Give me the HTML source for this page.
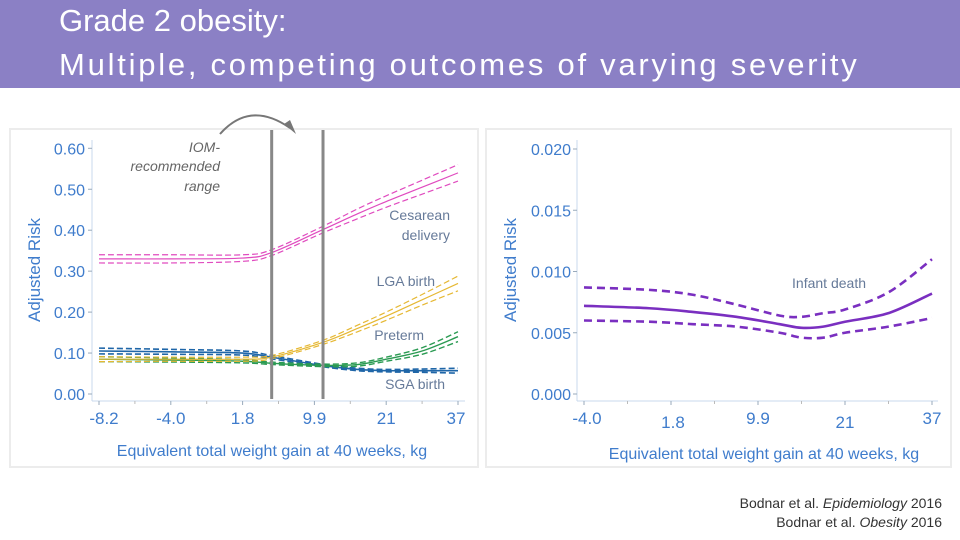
<!DOCTYPE html>
<html><head><meta charset="utf-8">
<style>
body{margin:0;width:960px;height:540px;overflow:hidden;background:#fff;font-family:"Liberation Sans",sans-serif;}
#title{position:absolute;left:0;top:0;width:960px;height:88px;background:#8b80c5;}
#title div{position:absolute;left:59px;color:#fff;font-size:31px;line-height:36px;white-space:nowrap;}
#cite{position:absolute;right:18px;top:494px;text-align:right;font-size:14px;color:#333;line-height:19px;}
</style></head>
<body>
<div id="title">
<div style="top:3px">Grade 2 obesity:</div>
<div style="top:47px;letter-spacing:2.75px">Multiple, competing outcomes of varying severity</div>
</div>
<svg id="s" width="960" height="540" style="position:absolute;left:0;top:0"></svg>
<div id="cite">Bodnar et al. <i>Epidemiology</i> 2016<br>Bodnar et al. <i>Obesity</i> 2016</div>
<script>
// Left chart data (x in tick-index units)
const leftTicks = ["-8.2","-4.0","1.8","9.9","21","37"];
const leftYTicks = [0,0.1,0.2,0.3,0.4,0.5,0.6];
const xs = [0,1,2,2.4,3.1,3.6,4,4.5,5];
const cesarean = [0.33,0.33,0.332,0.345,0.40,0.44,0.47,0.505,0.54];
const cesCI = [0.01,0.01,0.008,0.007,0.008,0.012,0.014,0.017,0.02];
const lga = [0.085,0.085,0.085,0.09,0.125,0.16,0.19,0.23,0.27];
const lgaCI = [0.006,0.005,0.005,0.004,0.005,0.008,0.01,0.013,0.018];
const preterm = [0.085,0.083,0.08,0.075,0.07,0.072,0.085,0.105,0.14];
const pretermCI = [0.006,0.005,0.004,0.003,0.003,0.004,0.005,0.008,0.012];
const sga = [0.105,0.103,0.1,0.09,0.07,0.06,0.057,0.057,0.057];
const sgaCI = [0.007,0.006,0.005,0.004,0.003,0.003,0.003,0.004,0.006];
const iomRange = [2.405,3.12];
// Right chart data
const rightTicks = ["-4.0","1.8","9.9","21","37"];
const rightYTicks = [0,0.005,0.01,0.015,0.02];
const rxs = [0,0.75,1.25,1.75,2.25,2.5,2.75,3,3.5,4];
const infant = [0.0072,0.0070,0.0067,0.0063,0.0057,0.0054,0.0055,0.0059,0.0066,0.0082];
const infantHi = [0.0087,0.0085,0.0081,0.0073,0.0064,0.0063,0.0066,0.0069,0.0083,0.011];
const infantLo = [0.0060,0.0059,0.0057,0.0055,0.0050,0.0046,0.0046,0.0050,0.0055,0.0062];

const NS="http://www.w3.org/2000/svg", svg=document.getElementById('s');
function mk(t,a,p){const e=document.createElementNS(NS,t);for(const k in a)e.setAttribute(k,a[k]);(p||svg).appendChild(e);return e;}
function smooth(pts){let d="M"+pts[0][0]+","+pts[0][1];for(let i=0;i<pts.length-1;i++){const p0=pts[i-1]||pts[i],p1=pts[i],p2=pts[i+1],p3=pts[i+2]||p2;
d+=" C"+(p1[0]+(p2[0]-p0[0])/6)+","+(p1[1]+(p2[1]-p0[1])/6)+" "+(p2[0]-(p3[0]-p1[0])/6)+","+(p2[1]-(p3[1]-p1[1])/6)+" "+p2[0]+","+p2[1];}return d;}
const blue="#3f7ccc";

// Panels
let p=mk('rect',{x:10,y:129,width:468,height:338,fill:'#fff',stroke:'#ececec','stroke-width':2});

p=mk('rect',{x:486,y:129,width:465,height:338,fill:'#fff',stroke:'#ececec','stroke-width':2});


// Left axes
const lx=i=>99+i*71.8, ly=v=>394-v/0.6*245.7;
let e=mk('line',{x1:92,y1:140,x2:92,y2:401,stroke:'#c8d8ec'});
e=mk('line',{x1:92,y1:401,x2:465,y2:401,stroke:'#c8d8ec'});
leftYTicks.forEach(v=>{mk('line',{x1:88,x2:92,y1:ly(v),y2:ly(v),stroke:'#9ab'});
 const t=mk('text',{x:85,y:ly(v)+6,'text-anchor':'end','font-size':16,fill:blue});t.textContent=v.toFixed(2);
 });
leftTicks.forEach((l,i)=>{mk('line',{x1:lx(i),x2:lx(i),y1:401,y2:405,stroke:'#9ab'});
 if(i<5)mk('line',{x1:lx(i+0.5),x2:lx(i+0.5),y1:401,y2:404,stroke:'#bbb'});
 const t=mk('text',{x:lx(i)+(i==0?5:i==5?-2:0),y:424,'text-anchor':'middle','font-size':17,fill:blue});t.textContent=l;
 });
e=mk('text',{x:272,y:456,'text-anchor':'middle','font-size':16,fill:blue});e.textContent="Equivalent total weight gain at 40 weeks, kg";

e=mk('text',{x:0,y:0,transform:'translate(40,270) rotate(-90)','text-anchor':'middle','font-size':17,fill:blue});e.textContent="Adjusted Risk";


function series(x,fx,fy,mid,ci,col,name,w){
 [-1,1].forEach(s=>{const pp=mk('path',{d:smooth(x.map((xx,i)=>[fx(xx),fy(mid[i]+s*ci[i])])),fill:'none',stroke:col,'stroke-width':w,'stroke-dasharray':'6,3'});
  });
 const pp=mk('path',{d:smooth(x.map((xx,i)=>[fx(xx),fy(mid[i])])),fill:'none',stroke:col,'stroke-width':w});
 
}
series(xs,lx,ly,sga,sgaCI,'#1f66a8','sga',1.6);
series(xs,lx,ly,preterm,pretermCI,'#2a9a52','preterm',1.4);
series(xs,lx,ly,lga,lgaCI,'#e6b833','lga',1.2);
series(xs,lx,ly,cesarean,cesCI,'#e04bbf','cesarean',1.2);
iomRange.forEach(v=>{const l=mk('line',{x1:lx(v),x2:lx(v),y1:130,y2:399,stroke:'#888','stroke-width':3});
 });
[["IOM-",220,152],["recommended",220,171],["range",220,191]].forEach(a=>{const t=mk('text',{x:a[1],y:a[2],'text-anchor':'end','font-size':14,'font-style':'italic',fill:'#666'});t.textContent=a[0];
 });
e=mk('path',{d:'M220,134 Q250,100 290,128',fill:'none',stroke:'#777','stroke-width':2});
mk('path',{d:'M284,124 L296,134 L290,120 Z',fill:'#777'});
[["Cesarean",450,220],["delivery",450,240],["LGA birth",435,286],["Preterm",424,340],["SGA birth",445,389]].forEach(a=>{const t=mk('text',{x:a[1],y:a[2],'text-anchor':'end','font-size':14,fill:'#667a99'});t.textContent=a[0];
 });

// Right chart
const rx=i=>584+i*87, ry=v=>394-v/0.02*245;
e=mk('line',{x1:577,y1:140,x2:577,y2:401,stroke:'#c8d8ec'});
e=mk('line',{x1:577,y1:401,x2:938,y2:401,stroke:'#c8d8ec'});
rightYTicks.forEach(v=>{mk('line',{x1:573,x2:577,y1:ry(v),y2:ry(v),stroke:'#9ab'});
 const t=mk('text',{x:571,y:ry(v)+6,'text-anchor':'end','font-size':16,fill:blue});t.textContent=v.toFixed(3);
 });
rightTicks.forEach((l,i)=>{mk('line',{x1:rx(i),x2:rx(i),y1:401,y2:405,stroke:'#9ab'});
 if(i<4)mk('line',{x1:rx(i+0.5),x2:rx(i+0.5),y1:401,y2:404,stroke:'#bbb'});
 const t=mk('text',{x:rx(i)+(i==0?3:i==1?2:0),y:i%2?428:424,'text-anchor':'middle','font-size':17,fill:blue});t.textContent=l;
 });
e=mk('text',{x:764,y:459,'text-anchor':'middle','font-size':16,fill:blue});e.textContent="Equivalent total weight gain at 40 weeks, kg";

e=mk('text',{x:0,y:0,transform:'translate(516,270) rotate(-90)','text-anchor':'middle','font-size':17,fill:blue});e.textContent="Adjusted Risk";

[infantHi,infantLo].forEach(arr=>{const pp=mk('path',{d:smooth(rxs.map((xx,i)=>[rx(xx),ry(arr[i])])),fill:'none',stroke:'#7a2fc0','stroke-width':2.6,'stroke-dasharray':'8,5'});
 });
e=mk('path',{d:smooth(rxs.map((xx,i)=>[rx(xx),ry(infant[i])])),fill:'none',stroke:'#7a2fc0','stroke-width':2.6});

e=mk('text',{x:866,y:288,'text-anchor':'end','font-size':14,fill:'#667a99'});e.textContent="Infant death";

</script>
</body></html>
